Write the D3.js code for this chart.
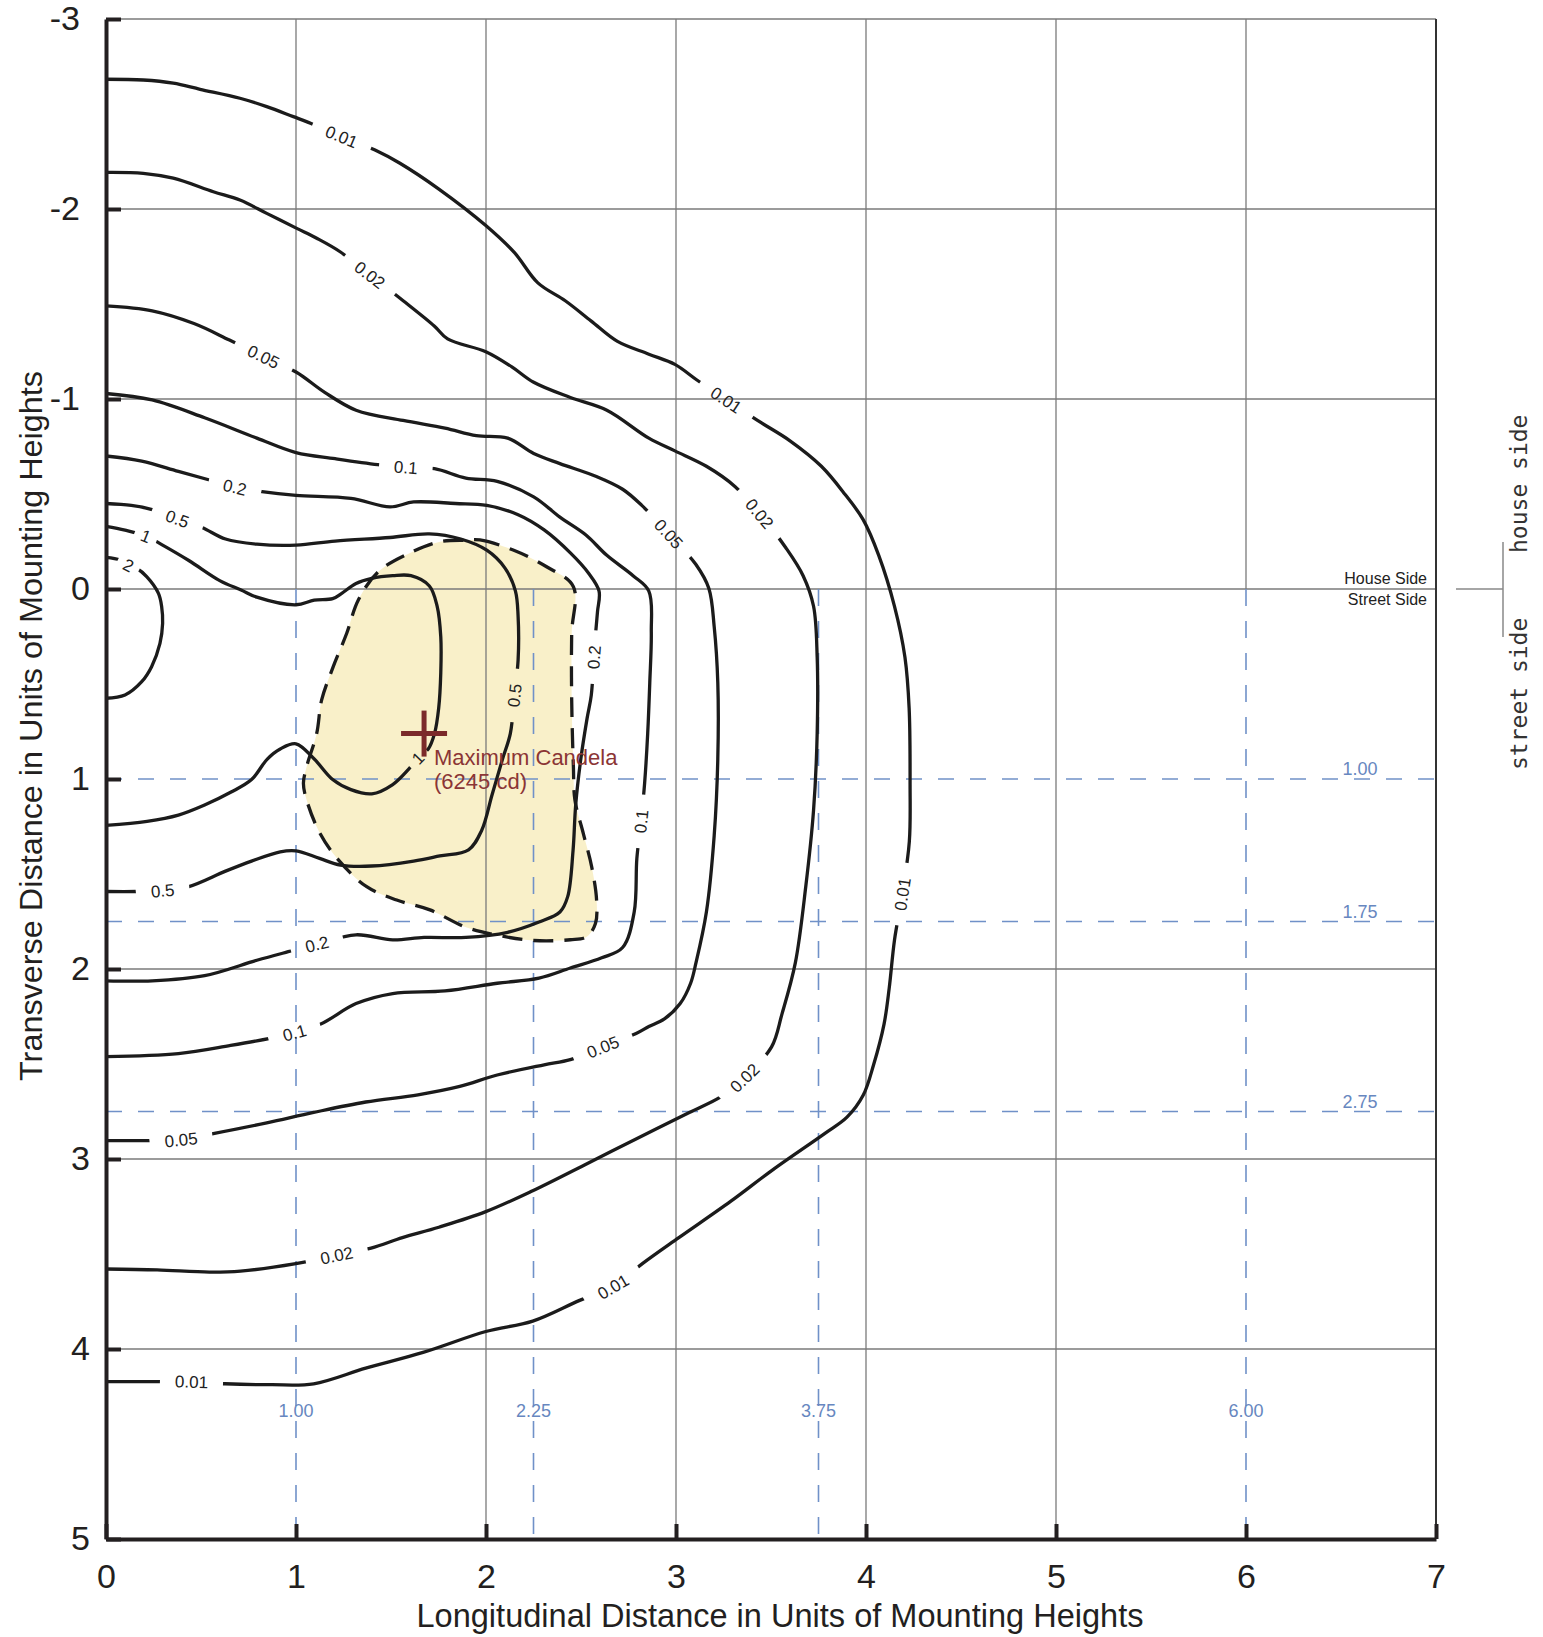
<!DOCTYPE html>
<html>
<head>
<meta charset="utf-8">
<script src="https://cdn.jsdelivr.net/npm/d3@7"></script>
<style>
  body { margin: 0; background: #fff; }
  svg { display: block; }
</style>
</head>
<body>
<svg id="chart" width="1543" height="1637"></svg>
<script>
// ---- data (units of mounting heights) ----
const xTicks = [0, 1, 2, 3, 4, 5, 6, 7];
const yTicks = [-3, -2, -1, 0, 1, 2, 3, 4, 5];
const refRows = [1.00, 1.75, 2.75];        // transverse reference lines
const refCols = [1.00, 2.25, 3.75, 6.00];  // longitudinal reference lines

// isocandela contours
const c001 = [[0,-2.683],[0.196,-2.679],[0.354,-2.662],[0.495,-2.63],[0.705,-2.583],[0.846,-2.539],[0.986,-2.486],[1.065,-2.456],[1.240,-2.381],[1.416,-2.311],[1.547,-2.241],[1.752,-2.105],[1.999,-1.913],[2.15,-1.77],[2.273,-1.611],[2.417,-1.517],[2.554,-1.410],[2.692,-1.303],[2.857,-1.236],[2.994,-1.182],[3.11,-1.10],[3.264,-0.995],[3.429,-0.887],[3.600,-0.780],[3.765,-0.646],[3.889,-0.499],[3.985,-0.365],[4.067,-0.177],[4.150,0.091],[4.205,0.359],[4.227,0.627],[4.232,1.029],[4.228,1.33],[4.191,1.606],[4.150,1.847],[4.122,2.102],[4.095,2.290],[4.040,2.504],[3.985,2.665],[3.90,2.78],[3.784,2.865],[3.509,3.057],[3.289,3.222],[3.015,3.414],[2.823,3.551],[2.669,3.672],[2.493,3.744],[2.246,3.853],[1.999,3.908],[1.669,4.018],[1.367,4.101],[1.093,4.183],[0.873,4.188],[0.626,4.183],[0.450,4.172],[0.242,4.172],[0,4.172]];
const c002 = [[0,-2.193],[0.196,-2.188],[0.354,-2.162],[0.565,-2.091],[0.705,-2.047],[0.846,-1.977],[1.004,-1.898],[1.109,-1.846],[1.232,-1.775],[1.389,-1.653],[1.564,-1.517],[1.729,-1.383],[1.798,-1.316],[1.999,-1.249],[2.136,-1.169],[2.251,-1.088],[2.444,-1.008],[2.636,-0.941],[2.857,-0.794],[2.994,-0.727],[3.160,-0.646],[3.31,-0.54],[3.440,-0.397],[3.578,-0.217],[3.669,-0.070],[3.724,0.091],[3.743,0.359],[3.743,0.761],[3.724,1.164],[3.683,1.566],[3.628,1.968],[3.558,2.236],[3.503,2.410],[3.361,2.573],[3.235,2.673],[3.070,2.755],[2.795,2.892],[2.521,3.030],[2.246,3.167],[1.999,3.277],[1.752,3.359],[1.560,3.414],[1.395,3.469],[1.214,3.507],[0.999,3.551],[0.708,3.590],[0.544,3.595],[0.269,3.584],[0,3.579]];
const c005 = [[0,-1.49],[0.243,-1.464],[0.463,-1.397],[0.65,-1.31],[0.829,-1.223],[1.0,-1.142],[1.151,-1.035],[1.316,-0.941],[1.564,-0.887],[1.784,-0.847],[1.949,-0.807],[2.114,-0.794],[2.251,-0.713],[2.389,-0.660],[2.581,-0.592],[2.719,-0.525],[2.82,-0.44],[2.962,-0.290],[3.105,-0.129],[3.173,-0.003],[3.201,0.198],[3.220,0.493],[3.220,0.895],[3.201,1.298],[3.160,1.700],[3.105,1.968],[3.077,2.075],[3.022,2.182],[2.939,2.263],[2.857,2.303],[2.79,2.34],[2.615,2.410],[2.444,2.477],[2.306,2.504],[2.059,2.558],[1.862,2.618],[1.642,2.662],[1.367,2.700],[1.093,2.755],[0.846,2.810],[0.571,2.865],[0.395,2.898],[0.2,2.903],[0,2.903]];
const c01 = [[0,-1.029],[0.243,-0.995],[0.519,-0.901],[0.794,-0.794],[1.0,-0.718],[1.206,-0.686],[1.43,-0.655],[1.578,-0.641],[1.729,-0.633],[1.894,-0.584],[2.059,-0.566],[2.251,-0.485],[2.389,-0.378],[2.526,-0.284],[2.636,-0.177],[2.774,-0.070],[2.857,0.011],[2.870,0.225],[2.862,0.493],[2.851,0.761],[2.835,1.02],[2.816,1.223],[2.794,1.418],[2.780,1.700],[2.719,1.887],[2.609,1.941],[2.444,1.995],[2.279,2.048],[2.059,2.075],[1.784,2.115],[1.509,2.129],[1.316,2.182],[1.13,2.29],[0.992,2.335],[0.862,2.365],[0.656,2.402],[0.381,2.445],[0,2.461]];
const c02 = [[0,-0.700],[0.188,-0.673],[0.381,-0.619],[0.54,-0.575],[0.678,-0.536],[0.821,-0.512],[1.0,-0.493],[1.289,-0.477],[1.495,-0.432],[1.619,-0.458],[1.839,-0.450],[2.004,-0.440],[2.169,-0.391],[2.306,-0.311],[2.444,-0.190],[2.540,-0.083],[2.595,0.011],[2.587,0.118],[2.578,0.22],[2.568,0.359],[2.554,0.560],[2.532,0.681],[2.499,0.895],[2.472,1.137],[2.458,1.378],[2.430,1.619],[2.389,1.700],[2.279,1.753],[2.114,1.807],[1.894,1.834],[1.674,1.834],[1.509,1.847],[1.316,1.820],[1.110,1.869],[0.959,1.909],[0.794,1.954],[0.519,2.035],[0.243,2.062],[0,2.062]];
const c05 = [[0,-0.450],[0.133,-0.440],[0.243,-0.418],[0.376,-0.370],[0.505,-0.324],[0.629,-0.263],[0.794,-0.236],[1.0,-0.231],[1.206,-0.252],[1.495,-0.271],[1.702,-0.290],[1.867,-0.263],[2.004,-0.204],[2.100,-0.110],[2.155,0.011],[2.169,0.145],[2.169,0.373],[2.150,0.560],[2.128,0.761],[2.087,0.895],[2.032,1.083],[1.977,1.271],[1.908,1.373],[1.757,1.405],[1.619,1.432],[1.399,1.458],[1.234,1.453],[1.124,1.418],[1.0,1.378],[0.917,1.383],[0.766,1.432],[0.629,1.485],[0.436,1.566],[0.298,1.587],[0.161,1.592],[0,1.592]];
const c1 = [[0,-0.330],[0.1,-0.31],[0.210,-0.279],[0.298,-0.231],[0.436,-0.150],[0.601,-0.043],[0.711,0.005],[0.794,0.043],[1.0,0.083],[1.096,0.059],[1.193,0.051],[1.239,0.024],[1.316,-0.029],[1.399,-0.056],[1.509,-0.070],[1.605,-0.070],[1.702,-0.016],[1.743,0.091],[1.762,0.252],[1.762,0.440],[1.751,0.627],[1.729,0.761],[1.696,0.842],[1.641,0.890],[1.592,0.949],[1.509,1.029],[1.399,1.078],[1.289,1.056],[1.193,1.003],[1.096,0.895],[1.0,0.815],[0.917,0.842],[0.849,0.895],[0.766,1.003],[0.656,1.070],[0.519,1.137],[0.381,1.190],[0.216,1.223],[0,1.244]];
const c2 = [[0,-0.167],[0.074,-0.153],[0.118,-0.126],[0.161,-0.109],[0.214,-0.065],[0.276,0.023],[0.293,0.093],[0.298,0.181],[0.284,0.286],[0.240,0.409],[0.188,0.488],[0.1,0.558],[0,0.575]];

const levels = ["0.01", "0.02", "0.05", "0.1", "0.2", "0.5", "1", "2"];
const contourPts = [c001, c002, c005, c01, c02, c05, c1, c2];

// label: level, x, y
const contourLabels = [
  ["0.01", 1.240, -2.381], ["0.01", 3.264, -0.995], ["0.01", 4.191, 1.606], ["0.01", 2.669, 3.672], ["0.01", 0.450, 4.172],
  ["0.02", 1.389, -1.653], ["0.02", 3.440, -0.397], ["0.02", 3.361, 2.573], ["0.02", 1.214, 3.507],
  ["0.05", 0.829, -1.223], ["0.05", 2.962, -0.290], ["0.05", 2.615, 2.410], ["0.05", 0.395, 2.898],
  ["0.1", 1.578, -0.641], ["0.1", 2.816, 1.223], ["0.1", 0.992, 2.335],
  ["0.2", 0.678, -0.536], ["0.2", 2.568, 0.359], ["0.2", 1.110, 1.869],
  ["0.5", 0.376, -0.370], ["0.5", 2.150, 0.560], ["0.5", 0.298, 1.587],
  ["1", 0.210, -0.279], ["1", 1.641, 0.890],
  ["2", 0.118, -0.126]
];

// shaded zone (dashed outline)
const brightZone = [[1.894,-0.257],[1.968,-0.258],[2.143,-0.205],[2.319,-0.117],[2.46,-0.012],[2.451,0.233],[2.451,0.584],[2.46,0.935],[2.468,1.111],[2.512,1.286],[2.556,1.461],[2.582,1.637],[2.576,1.760],[2.53,1.83],[2.444,1.846],[2.251,1.850],[2.059,1.822],[1.894,1.780],[1.705,1.689],[1.530,1.637],[1.372,1.567],[1.223,1.426],[1.126,1.286],[1.056,1.111],[1.039,1.023],[1.056,0.935],[1.109,0.760],[1.135,0.584],[1.196,0.409],[1.267,0.233],[1.328,0.058],[1.433,-0.091],[1.60,-0.19],[1.758,-0.249]];

const maxPoint = [1.674, 0.761];
const maxText = ["Maximum Candela", "(6245 cd)"];

// ---- drawing ----
const W = 1543, H = 1637;
const svg = d3.select("#chart");
const x = d3.scaleLinear().domain([0, 7]).range([106, 1436]);
const y = d3.scaleLinear().domain([-3, 5]).range([19, 1539]);
const sans = "'Liberation Sans', Arial, Helvetica, sans-serif";
const narrow = "'Liberation Sans Narrow', 'Liberation Sans', Arial, sans-serif";
const ink = "#231f20";

svg.append("rect").attr("width", W).attr("height", H).attr("fill", "#fff");

const line = d3.line()
    .x(d => x(d[0]))
    .y(d => y(d[1]))
    .curve(d3.curveCatmullRom.alpha(0.5));
const ring = d3.line()
    .x(d => x(d[0]))
    .y(d => y(d[1]))
    .curve(d3.curveCatmullRomClosed.alpha(0.5));

// shaded zone fill
svg.append("path")
    .attr("d", ring(brightZone))
    .attr("fill", "#f9f0c9");

// grid (where a reference line sits on a grid line, the reference line replaces it)
const grid = svg.append("g").attr("stroke", "#7a7a7a").attr("stroke-width", 1.3);
grid.selectAll("line.v").data(xTicks.filter(d => d > 0 && d < 7)).join("line")
    .attr("class", "v")
    .attr("x1", d => x(d)).attr("x2", d => x(d))
    .attr("y1", y(-3))
    .attr("y2", d => refCols.includes(d) ? y(0) : y(5));
grid.selectAll("line.h").data(yTicks.filter(d => d < 5 && !refRows.includes(d))).join("line")
    .attr("class", "h")
    .attr("x1", x(0)).attr("x2", x(7))
    .attr("y1", d => y(d)).attr("y2", d => y(d));
svg.append("line")
    .attr("x1", x(7)).attr("x2", x(7)).attr("y1", y(-3)).attr("y2", y(5))
    .attr("stroke", "#333").attr("stroke-width", 2);

// blue reference lines
const blue = "#7091c8";
svg.append("g").selectAll("line").data(refRows).join("line")
    .attr("x1", x(0)).attr("x2", x(7))
    .attr("y1", d => y(d)).attr("y2", d => y(d))
    .attr("stroke", blue).attr("stroke-width", 1.6).attr("stroke-dasharray", "16,16");
svg.append("g").selectAll("line").data(refCols).join("line")
    .attr("x1", d => x(d)).attr("x2", d => x(d))
    .attr("y1", y(0)).attr("y2", y(5))
    .attr("stroke", blue).attr("stroke-width", 1.6).attr("stroke-dasharray", "17,15");
svg.append("g").selectAll("text").data(refRows).join("text")
    .attr("x", x(6.6)).attr("y", d => y(d) - 4)
    .attr("text-anchor", "middle")
    .attr("font-family", sans).attr("font-size", 18).attr("fill", "#6787c0")
    .text(d => d.toFixed(2));
svg.append("g").selectAll("text").data(refCols).join("text")
    .attr("x", d => x(d)).attr("y", y(4.36))
    .attr("text-anchor", "middle")
    .attr("font-family", sans).attr("font-size", 18).attr("fill", "#6787c0")
    .text(d => d.toFixed(2));

// contour labels + gaps
const defs = svg.append("defs");
const mask = defs.append("mask").attr("id", "gaps")
    .attr("maskUnits", "userSpaceOnUse")
    .attr("x", 0).attr("y", 0).attr("width", W).attr("height", H);
mask.append("rect").attr("width", W).attr("height", H).attr("fill", "#fff");

function labelAngle(pts, lx, ly) {
  let best = 0, bd = Infinity;
  pts.forEach((p, i) => {
    const d = (p[0] - lx) ** 2 + (p[1] - ly) ** 2;
    if (d < bd) { bd = d; best = i; }
  });
  const a = pts[Math.max(best - 1, 0)], b = pts[Math.min(best + 1, pts.length - 1)];
  let ang = Math.atan2(y(b[1]) - y(a[1]), x(b[0]) - x(a[0])) * 180 / Math.PI;
  if (ang >= 90) ang -= 180;
  if (ang < -90) ang += 180;
  return ang;
}

const labelG = svg.append("g");
contourLabels.forEach(([lv, lx, ly]) => {
  const pts = contourPts[levels.indexOf(lv)];
  const ang = labelAngle(pts, lx, ly);
  const tr = `translate(${x(lx)},${y(ly)}) rotate(${ang})`;
  const t = labelG.append("text")
      .attr("transform", tr)
      .attr("text-anchor", "middle")
      .attr("dy", "0.36em")
      .attr("font-family", sans).attr("font-size", 17).attr("fill", "#222")
      .text(lv);
  const w = t.node().getComputedTextLength() + (lv.length > 1 ? 30 : 14);
  mask.append("rect")
      .attr("transform", tr)
      .attr("x", -w / 2).attr("y", -9).attr("width", w).attr("height", 18)
      .attr("fill", "#000");
});

// contour lines
svg.insert("g", () => labelG.node())
    .attr("mask", "url(#gaps)")
  .selectAll("path").data(contourPts).join("path")
    .attr("d", d => line(d))
    .attr("fill", "none")
    .attr("stroke", "#1b1b1b")
    .attr("stroke-width", 3.3)
    .attr("stroke-linejoin", "round");

// dashed outline of shaded zone
svg.insert("path", () => labelG.node())
    .attr("d", ring(brightZone))
    .attr("fill", "none")
    .attr("stroke", "#1b1b1b")
    .attr("stroke-width", 3.3)
    .attr("stroke-dasharray", "20,11");

// axes
const axL = svg.append("g")
    .attr("transform", `translate(${x(0)},0)`)
    .call(d3.axisLeft(y).tickValues(yTicks).tickSize(-15).tickSizeOuter(0).tickPadding(16).tickFormat(d => String(d)));
const axB = svg.append("g")
    .attr("transform", `translate(0,${y(5)})`)
    .call(d3.axisBottom(x).tickValues(xTicks).tickSize(-15).tickSizeOuter(0).tickPadding(25).tickFormat(d => String(d)));
[axL, axB].forEach(g => {
  g.select(".domain").attr("stroke", ink).attr("stroke-width", 4);
  g.selectAll(".tick line").attr("stroke", ink).attr("stroke-width", 4);
  g.selectAll("text").attr("font-family", sans).attr("font-size", 34).attr("fill", ink);
});
axL.selectAll(".tick text").attr("x", d => d < 0 ? -26 : -16);

svg.append("text")
    .attr("x", 780).attr("y", 1627)
    .attr("text-anchor", "middle")
    .attr("font-family", narrow).attr("font-size", 34).attr("fill", ink)
    .attr("textLength", 727).attr("lengthAdjust", "spacingAndGlyphs")
    .text("Longitudinal Distance in Units of Mounting Heights");
svg.append("text")
    .attr("transform", "translate(42,726) rotate(-90)")
    .attr("text-anchor", "middle")
    .attr("font-family", narrow).attr("font-size", 32).attr("fill", ink)
    .attr("textLength", 710).attr("lengthAdjust", "spacingAndGlyphs")
    .text("Transverse Distance in Units of Mounting Heights");

// maximum candela marker
const mk = "#7b2a2a";
svg.append("line")
    .attr("x1", x(maxPoint[0]) - 23).attr("x2", x(maxPoint[0]) + 23)
    .attr("y1", y(maxPoint[1])).attr("y2", y(maxPoint[1]))
    .attr("stroke", mk).attr("stroke-width", 5);
svg.append("line")
    .attr("x1", x(maxPoint[0])).attr("x2", x(maxPoint[0]))
    .attr("y1", y(maxPoint[1]) - 23).attr("y2", y(maxPoint[1]) + 23)
    .attr("stroke", mk).attr("stroke-width", 5);
svg.append("g").selectAll("text").data(maxText).join("text")
    .attr("x", x(maxPoint[0]) + 10)
    .attr("y", (d, i) => y(maxPoint[1]) + 31 + i * 24)
    .attr("font-family", sans).attr("font-size", 22).attr("fill", "#8b3535")
    .text(d => d);

// house / street side
svg.append("text").attr("x", 1427).attr("y", 584).attr("text-anchor", "end")
    .attr("font-family", sans).attr("font-size", 16).attr("fill", "#222").text("House Side");
svg.append("text").attr("x", 1427).attr("y", 605).attr("text-anchor", "end")
    .attr("font-family", sans).attr("font-size", 16).attr("fill", "#222").text("Street Side");
svg.append("line").attr("x1", 1456).attr("x2", 1503).attr("y1", y(0)).attr("y2", y(0))
    .attr("stroke", "#888").attr("stroke-width", 1.5);
svg.append("line").attr("x1", 1503).attr("x2", 1503).attr("y1", 542).attr("y2", 637)
    .attr("stroke", "#888").attr("stroke-width", 1.5);
svg.append("text").attr("transform", "translate(1527,553) rotate(-90)")
    .attr("font-family", "'DejaVu Sans Mono', monospace").attr("font-size", 23).attr("fill", "#333")
    .text("house side");
svg.append("text").attr("transform", "translate(1527,770) rotate(-90)")
    .attr("font-family", "'DejaVu Sans Mono', monospace").attr("font-size", 23).attr("fill", "#333")
    .text("street side");
</script>
</body>
</html>
